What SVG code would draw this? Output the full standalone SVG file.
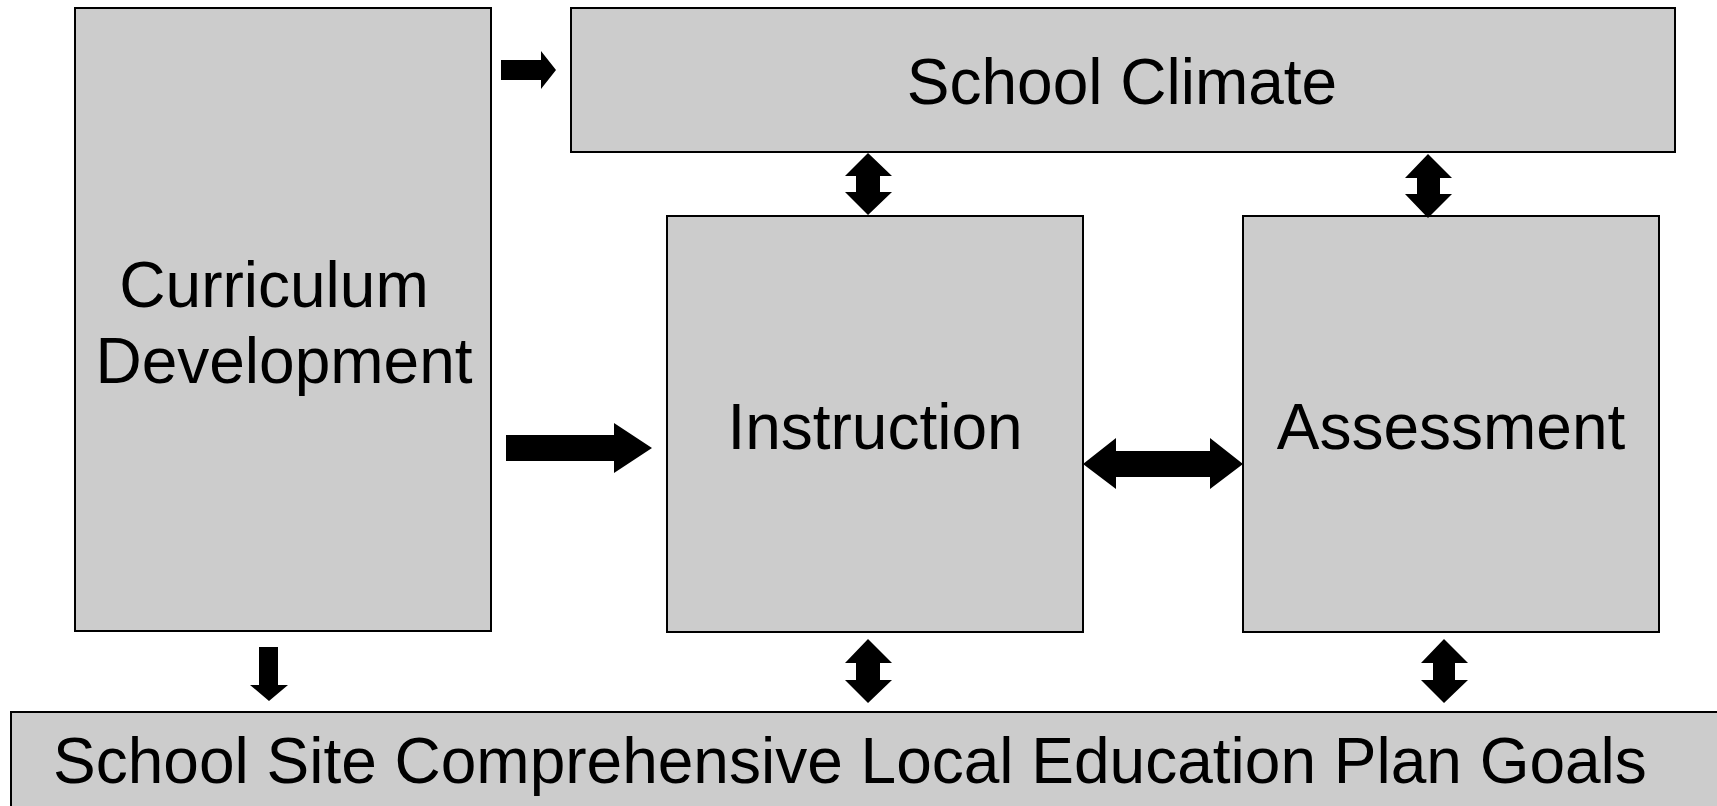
<svg xmlns="http://www.w3.org/2000/svg" width="1717" height="806" viewBox="0 0 1717 806">
<style>
.box{fill:#cccccc;stroke:#000;stroke-width:2}
.lbl{font-family:"Liberation Sans",Arial,sans-serif;font-size:64px;fill:#000}
.arr{fill:#000}
</style>
<rect width="1717" height="806" fill="#fff"/>
<g id="curriculum">
<rect class="box" x="75" y="8" width="416" height="623"/>
<text class="lbl" x="274" y="307" text-anchor="middle">Curriculum</text>
<text class="lbl" x="284" y="383" text-anchor="middle">Development</text>
</g>
<g id="climate">
<rect class="box" x="571" y="8" width="1104" height="144"/>
<text class="lbl" x="1122" y="104" text-anchor="middle">School Climate</text>
</g>
<g id="instruction">
<rect class="box" x="667" y="216" width="416" height="416"/>
<text class="lbl" x="875" y="449" text-anchor="middle">Instruction</text>
</g>
<g id="assessment">
<rect class="box" x="1243" y="216" width="416" height="416"/>
<text class="lbl" x="1451" y="449" text-anchor="middle">Assessment</text>
</g>
<g id="goals">
<rect class="box" x="11" y="712" width="1720" height="110"/>
<text class="lbl" x="53" y="783">School Site Comprehensive Local Education Plan Goals</text>
</g>
<g id="connectors">
<polygon class="arr" points="501,60 541,60 541,51 556,70 541,89 541,80 501,80"/>
<polygon class="arr" points="506,435 614,435 614,423 652,448 614,473 614,461 506,461"/>
<polygon class="arr" points="1083,464 1116,438 1116,451 1210,451 1210,438 1243,464 1210,489 1210,477 1116,477 1116,489"/>
<polygon class="arr" points="259,647 278,647 278,685 288,685 269,701 250,685 259,685"/>
<polygon class="arr" points="868,153 892,176 880,176 880,192 892,192 868,215 845,192 856,192 856,176 845,176"/>
<polygon class="arr" points="1428,154 1452,178 1440,178 1440,194 1452,194 1428,218 1405,194 1417,194 1417,178 1405,178"/>
<polygon class="arr" points="868,639 892,663 880,663 880,680 892,680 868,703 845,680 856,680 856,663 845,663"/>
<polygon class="arr" points="1444,639 1468,663 1455,663 1455,680 1468,680 1444,703 1421,680 1433,680 1433,663 1421,663"/>
</g>
</svg>
